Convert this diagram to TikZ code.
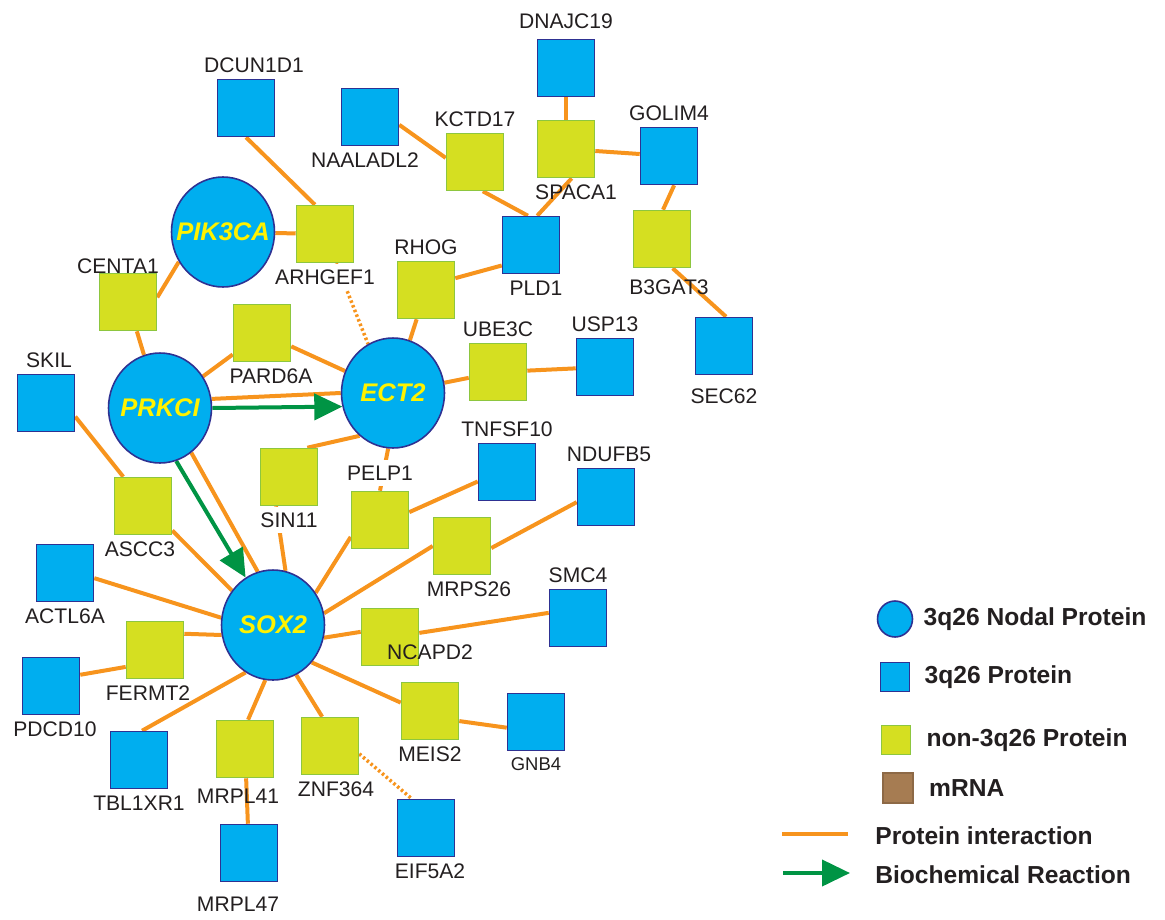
\documentclass[tikz,border=0pt]{standalone}
\usepackage{fontspec}
\setmainfont{Liberation Sans}
\usetikzlibrary{shapes,arrows.meta,positioning}
\pgfdeclarelayer{edges}
\pgfsetlayers{edges,main}
\definecolor{protfill}{HTML}{00AEEF}
\definecolor{protborder}{HTML}{2E3192}
\definecolor{nonfill}{HTML}{D5DF21}
\definecolor{nonborder}{HTML}{8DC63F}
\definecolor{mrnafill}{HTML}{A67C52}
\definecolor{piorange}{HTML}{F7941D}
\definecolor{brgreen}{HTML}{009444}
\definecolor{nodaltext}{HTML}{FFF200}
\definecolor{labeltext}{HTML}{231F20}
\tikzstyle{box} = [rectangle, minimum size=1.14cm, inner sep=0pt, line width=0.9pt]
\tikzstyle{prot} = [box, draw=protborder, fill=protfill]
\tikzstyle{nonprot} = [box, draw=nonborder, fill=nonfill]
\tikzstyle{mrna} = [box, draw=mrnafill!85!black, fill=mrnafill]
\tikzstyle{nodal} = [ellipse, draw=protborder, fill=protfill, line width=0.9pt,
    minimum width=2.06cm, minimum height=2.2cm, inner sep=0pt, text=nodaltext,
    font=\fontsize{14.5}{16}\selectfont\bfseries\itshape]
\tikzstyle{lbl} = [text=labeltext, font=\fontsize{12}{14}\selectfont]
\tikzstyle{lblw} = [lbl, fill=white]
\tikzstyle{legtext} = [text=labeltext, inner sep=0pt, anchor=west, font=\fontsize{14}{16}\selectfont\bfseries]
\tikzstyle{line} = [draw=piorange, line width=0.08cm]
\tikzstyle{dotline} = [draw=piorange, line width=0.07cm, dash pattern=on 0.05cm off 0.05cm]
\tikzstyle{reaction} = [draw=brgreen, line width=0.08cm, -{Triangle[length=0.56cm,width=0.52cm]}]

\begin{document}
\begin{tikzpicture}[x=0.02cm, y=-0.02cm]
    \useasboundingbox (0,0) rectangle (1165,919);
    % Place nodes
    \node [nodal] (PIK3CA) at (223,232) {\makebox[0pt]{PIK3CA}};
    \node [nodal] (PRKCI) at (160,408) {\makebox[0pt]{PRKCI}};
    \node [nodal] (ECT2) at (393,393) {\makebox[0pt]{ECT2}};
    \node [nodal] (SOX2) at (273,625) {\makebox[0pt]{SOX2}};

    \node [prot, label={[lbl, yshift=0.08cm]above:DNAJC19}] (DNAJC19) at (566,68) {};
    \node [nonprot, label={[lbl, xshift=0.2cm]below:SPACA1}] (SPACA1) at (566,149) {};
    \node [prot, label={[lbl]above:GOLIM4}] (GOLIM4) at (669,156) {};
    \node [nonprot, label={[lbl, xshift=0.14cm, yshift=-0.1cm]below:B3GAT3}] (B3GAT3) at (662,239) {};
    \node [prot, label={[lbl, xshift=0.1cm]below:PLD1}] (PLD1) at (531,245) {};
    \node [nonprot, label={[lbl]above:KCTD17}] (KCTD17) at (475,162) {};
    \node [prot, label={[lbl, xshift=-0.1cm]below:NAALADL2}] (NAALADL2) at (370,117) {};
    \node [prot, label={[lbl, xshift=0.16cm]above:DCUN1D1}] (DCUN1D1) at (246,108) {};
    \node [nonprot, label={[lblw]below:ARHGEF1}] (ARHGEF1) at (325,234) {};
    \node [nonprot, label={[lbl]above:RHOG}] (RHOG) at (426,290) {};
    \node [nonprot, label={[lbl, xshift=-0.2cm, yshift=-0.14cm]above:CENTA1}] (CENTA1) at (128,302) {};
    \node [nonprot, label={[lbl, xshift=0.18cm]below:PARD6A}] (PARD6A) at (262,333) {};
    \node [nonprot, label={[lbl]above:UBE3C}] (UBE3C) at (498,372) {};
    \node [prot, label={[lbl]above:USP13}] (USP13) at (605,367) {};
    \node [prot, label={[lbl, yshift=-0.14cm]below:SEC62}] (SEC62) at (724,346) {};
    \node [prot, label={[lbl]above:TNFSF10}] (TNFSF10) at (507,472) {};
    \node [prot, label={[lbl, xshift=0.06cm]above:NDUFB5}] (NDUFB5) at (606,497) {};
    \node [nonprot, label={[lblw, yshift=0.08cm]above:PELP1}] (PELP1) at (380,520) {};
    \node [nonprot, label={[lblw]below:SIN11}] (SIN11) at (289,477) {};
    \node [nonprot, label={[lbl, xshift=0.14cm]below:MRPS26}] (MRPS26) at (462,546) {};
    \node [prot, label={[lbl]above:SMC4}] (SMC4) at (578,618) {};
    \node [nonprot] (NCAPD2) at (390,637) {};
    \node [lbl] (NCAPD2-l) at (430,652) {NCAPD2};
    \node [nonprot, label={[lbl]below:MEIS2}] (MEIS2) at (430,711) {};
    \node [prot, label={[lbl, font=\fontsize{10.5}{12}\selectfont]below:GNB4}] (GNB4) at (536,722) {};
    \node [prot, label={[lbl, xshift=0.08cm]below:EIF5A2}] (EIF5A2) at (426,828) {};
    \node [nonprot, label={[lbl, xshift=0.12cm]below:ZNF364}] (ZNF364) at (330,746) {};
    \node [nonprot, label={[lbl, xshift=-0.14cm, yshift=-0.08cm]below:MRPL41}] (MRPL41) at (245,749) {};
    \node [prot, label={[lbl, xshift=-0.22cm, yshift=-0.16cm]below:MRPL47}] (MRPL47) at (249,853) {};
    \node [prot, label={[lbl]below:TBL1XR1}] (TBL1XR1) at (139,760) {};
    \node [prot, label={[lbl, xshift=0.08cm]below:PDCD10}] (PDCD10) at (51,686) {};
    \node [nonprot, label={[lbl, xshift=-0.14cm]below:FERMT2}] (FERMT2) at (155,650) {};
    \node [prot, label={[lbl]below:ACTL6A}] (ACTL6A) at (65,573) {};
    \node [nonprot, label={[lbl, xshift=-0.06cm]below:ASCC3}] (ASCC3) at (143,506) {};
    \node [prot, label={[lbl, xshift=0.06cm]above:SKIL}] (SKIL) at (46,403) {};

    % Legend
    \node [nodal, minimum width=0.7cm, minimum height=0.72cm] (leg-nodal) at (895,619) {};
    \node [legtext, right=0.2cm of leg-nodal] (leg-nodal-t) {3q26 Nodal Protein};
    \node [prot, minimum size=0.58cm] (leg-prot) at (895,677) {};
    \node [legtext, right=0.28cm of leg-prot] (leg-prot-t) {3q26 Protein};
    \node [nonprot, minimum size=0.58cm] (leg-non) at (896,740) {};
    \node [legtext, right=0.3cm of leg-non] (leg-non-t) {non-3q26 Protein};
    \node [mrna, minimum size=0.6cm] (leg-mrna) at (898,788) {};
    \node [legtext, right=0.3cm of leg-mrna] (leg-mrna-t) {mRNA};
    \coordinate (leg-pi-a) at (782,834);
    \coordinate (leg-pi-b) at (848,834);
    \node [legtext] (leg-pi-t) at (875,836) {Protein interaction};
    \coordinate (leg-br-a) at (783,873);
    \coordinate (leg-br-b) at (850,873);
    \node [legtext] (leg-br-t) at (875,875) {Biochemical Reaction};

    % Draw edges
    \begin{pgfonlayer}{edges}
    \path [line] (DNAJC19) -- (SPACA1);
    \path [line] (SPACA1) -- (GOLIM4);
    \path [line] (SPACA1.281) -- (PLD1.78);
    \path [line] (GOLIM4.280) -- (B3GAT3.88);
    \path [line] (B3GAT3.290) -- (SEC62.86);
    \path [line] (NAALADL2.-15) -- (KCTD17.172);
    \path [line] (KCTD17.285) -- (PLD1.96);
    \path [line] (RHOG.22) -- (PLD1.215);
    \path [line] (DCUN1D1.south) -- (ARHGEF1.109);
    \path [line] (PIK3CA) -- (ARHGEF1);
    \path [dotline] (ARHGEF1.291) -- (ECT2.117);
    \path [line] (ECT2) -- (RHOG);
    \path [line] (CENTA1.9) -- (PIK3CA.214);
    \path [line] (CENTA1) -- (PRKCI);
    \path [line] (PRKCI) -- (PARD6A);
    \path [line] (PARD6A) -- (ECT2);
    \path [line] (PRKCI.10) -- (ECT2.180);
    \path [reaction] (PRKCI.east) -- (ECT2.195);
    \path [line] (ECT2) -- (UBE3C);
    \path [line] (UBE3C) -- (USP13);
    \path [line] (ECT2.232) -- (SIN11.58);
    \path [line] (ECT2.265) -- (PELP1.north);
    \path [line] (PELP1.15) -- (TNFSF10.198);
    \path [line] (SOX2.37) -- (PELP1.210);
    \path [line] (SIN11.246) -- (SOX2.77);
    \path [line] (SOX2.13) -- (MRPS26.180);
    \path [line] (MRPS26.-4) -- (NDUFB5.190);
    \path [line] (SOX2.-14) -- (NCAPD2.170);
    \path [line] (NCAPD2.8) -- (SMC4.170);
    \path [line] (SOX2.316) -- (MEIS2.164);
    \path [line] (MEIS2.-19) -- (GNB4.191);
    \path [line] (SOX2.295) -- (ZNF364.105);
    \path [dotline] (ZNF364.-15) -- (EIF5A2.116);
    \path [line] (SOX2.262) -- (MRPL41.84);
    \path [line] (MRPL41) -- (MRPL47);
    \path [line] (SOX2.240) -- (TBL1XR1.84);
    \path [line] (SOX2.191) -- (FERMT2.29);
    \path [line] (PDCD10.21) -- (FERMT2.210);
    \path [line] (ACTL6A.-10) -- (SOX2.172);
    \path [line] (ASCC3.320) -- (SOX2.140);
    \path [line] (SKIL.335) -- (ASCC3.124);
    \path [line] (PRKCI.305) -- (SOX2.106);
    \path [reaction] (PRKCI.287) -- (SOX2.120);
    \path [line] (leg-pi-a) -- (leg-pi-b);
    \path [reaction] (leg-br-a) -- (leg-br-b);
    \end{pgfonlayer}
\end{tikzpicture}
\end{document}
